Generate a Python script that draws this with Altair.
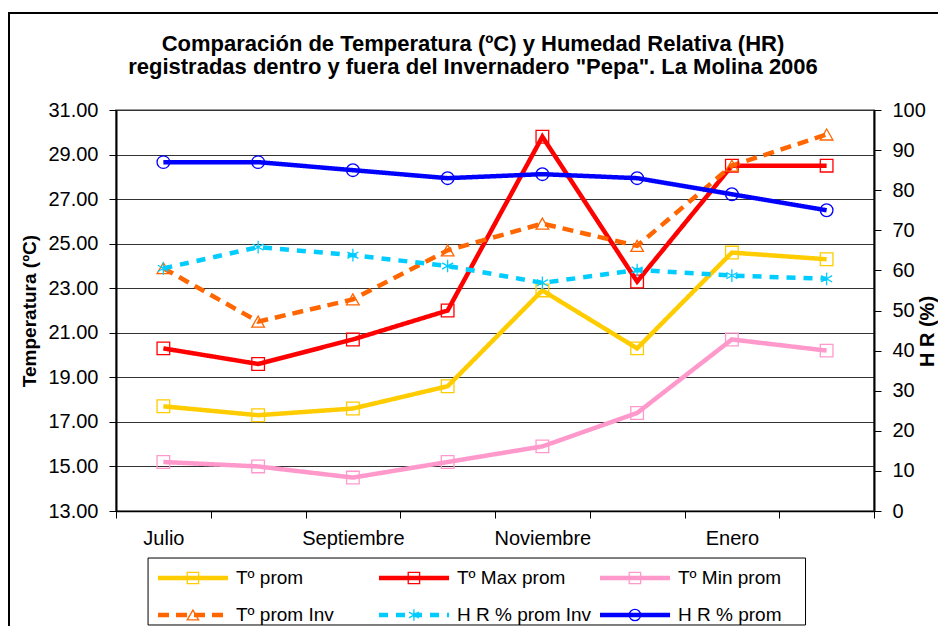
import altair as alt
import pandas as pd

# ---------------- data ----------------
meses = ["Julio", "Agosto", "Septiembre", "Octubre", "Noviembre", "Diciembre", "Enero", "Febrero"]
etiquetas_x = ["Julio", "Septiembre", "Noviembre", "Enero"]

series = ["Tº prom", "Tº Max prom", "Tº Min prom", "Tº prom Inv", "H R % prom Inv", "H R % prom"]

t_prom = [17.7, 17.3, 17.6, 18.6, 22.9, 20.3, 24.6, 24.3]
t_max_prom = [20.3, 19.6, 20.7, 22.0, 29.8, 23.3, 28.5, 28.5]
t_min_prom = [15.2, 15.0, 14.5, 15.2, 15.9, 17.4, 20.7, 20.2]
t_prom_inv = [23.9, 21.5, 22.5, 24.7, 25.9, 24.9, 28.5, 29.9]
hr_prom_inv = [60.5, 65.8, 63.8, 61.1, 56.9, 60.1, 58.7, 57.9]
hr_prom = [87.0, 87.0, 85.0, 83.0, 84.0, 83.0, 79.0, 75.0]

temp_ticks = [13, 15, 17, 19, 21, 23, 25, 27, 29, 31]
hr_ticks = [0, 10, 20, 30, 40, 50, 60, 70, 80, 90, 100]

titulo = ["Comparación de Temperatura (ºC) y Humedad Relativa (HR)",
          "registradas dentro y fuera del Invernadero \"Pepa\". La Molina 2006"]

# ---------------- styles ----------------
colores = ["#FFCC00", "#FF0000", "#FF99CC", "#FF6600", "#00CCFF", "#0000FF"]
dashes = [[1, 0], [1, 0], [1, 0], [11, 7], [9, 8], [1, 0]]
asterisco = "M0,-1L0,1M-0.87,-0.5L0.87,0.5M-0.87,0.5L0.87,-0.5"
formas = ["square", "square", "square", "triangle-up", asterisco, "circle"]

FONT = "Liberation Sans"
W, H = 758, 401

def largo(nombres, listas):
    filas = []
    for s, vals in zip(nombres, listas):
        for m, v in zip(meses, vals):
            filas.append({"mes": m, "serie": s, "valor": v})
    return pd.DataFrame(filas)

df_t = largo(series[:4], [t_prom, t_max_prom, t_min_prom, t_prom_inv])
df_h = largo(series[4:], [hr_prom_inv, hr_prom])

color = alt.Color("serie:N", scale=alt.Scale(domain=series, range=colores), legend=None)
dash = alt.StrokeDash("serie:N", scale=alt.Scale(domain=series, range=dashes), legend=None)
shape = alt.Shape("serie:N", scale=alt.Scale(domain=series, range=formas), legend=None)

label_expr = "indexof([" + ",".join("'" + e + "'" for e in etiquetas_x) + "], datum.value) >= 0 ? datum.value : ''"

x_enc = alt.X(
    "mes:N", sort=meses, bandPosition=0.5,
    scale=alt.Scale(type="band", domain=meses, paddingInner=0, paddingOuter=0),
    axis=alt.Axis(title=None, labelExpr=label_expr, tickBand="extent", labelAngle=0,
                  tickSize=7, labelPadding=10, labelFontSize=20, domainColor="black",
                  tickColor="black", domainWidth=1.5),
)

y_t = alt.Y(
    "valor:Q",
    scale=alt.Scale(domain=[13, 31], nice=False, zero=False),
    axis=alt.Axis(orient="left", values=temp_ticks, format=".2f", title="Temperatura (ºC)",
                  grid=True, gridColor="#333333", gridWidth=1.2, tickSize=7, labelPadding=11,
                  titlePadding=8, domainWidth=2),
)
y_h = alt.Y(
    "valor:Q",
    scale=alt.Scale(domain=[0, 100], nice=False),
    axis=alt.Axis(orient="right", values=hr_ticks, title="H R (%)", titleAngle=270,
                  titleX=53, titleY=221, titleAlign="center", titleBaseline="middle",
                  titleFontSize=20,
                  grid=False, tickSize=7, labelPadding=11, domainWidth=2),
)

line_t = alt.Chart(df_t).mark_line(strokeWidth=4.5).encode(x=x_enc, y=y_t, color=color, strokeDash=dash)
pts_t = alt.Chart(df_t).mark_point(filled=False, size=160, strokeWidth=1.3, opacity=1).encode(
    x=x_enc, y=y_t, color=color, shape=shape)
line_h = alt.Chart(df_h).mark_line(strokeWidth=4.5).encode(x=x_enc, y=y_h, color=color, strokeDash=dash)
pts_h = alt.Chart(df_h).mark_point(filled=False, size=160, strokeWidth=1.3, opacity=1).encode(
    x=x_enc, y=y_h, color=color, shape=shape)

main = alt.layer(alt.layer(line_t, pts_t), alt.layer(line_h, pts_h)).resolve_scale(y="independent")

# ---------------- legend (built from the same series list) ----------------
leg = pd.DataFrame({"serie": series,
                    "col": [i % 3 for i in range(len(series))],
                    "fila": [i // 3 for i in range(len(series))]})
xs_leg = alt.Scale(domain=[0, 3], range=[42, 705])
ys_leg = alt.Scale(domain=[0, 1], range=[468, 505])

leg_base = alt.Chart(leg).transform_calculate(
    x0="datum.col", x1="datum.col + 0.317", xm="datum.col + 0.158", xt="datum.col + 0.353")

box = alt.Chart(pd.DataFrame({"a": [-0.045], "b": [2.93], "c": [-0.54], "d": [1.27]})).mark_rect(
    fill="white", stroke="black", strokeWidth=1).encode(
    x=alt.X("a:Q", scale=xs_leg, axis=None), x2="b:Q",
    y=alt.Y("c:Q", scale=ys_leg, axis=None), y2="d:Q")
leg_rule = leg_base.mark_rule(strokeWidth=4.5).encode(
    x=alt.X("x0:Q", scale=xs_leg, axis=None), x2="x1:Q",
    y=alt.Y("fila:Q", scale=ys_leg, axis=None), color=color, strokeDash=dash)
leg_pts = leg_base.mark_point(filled=False, size=130, strokeWidth=1.3, opacity=1).encode(
    x=alt.X("xm:Q", scale=xs_leg, axis=None),
    y=alt.Y("fila:Q", scale=ys_leg, axis=None), color=color, shape=shape)
leg_txt = leg_base.mark_text(align="left", baseline="middle", fontSize=19, font=FONT, color="black").encode(
    x=alt.X("xt:Q", scale=xs_leg, axis=None),
    y=alt.Y("fila:Q", scale=ys_leg, axis=None), text="serie:N")
legend = alt.layer(box, leg_rule, leg_pts, leg_txt)

frame = alt.Chart(pd.DataFrame({"a": [0]})).mark_rect(
    fill="white", fillOpacity=0, stroke="black", strokeWidth=2).encode(
    x=alt.value(-107), x2=alt.value(900), y=alt.value(-97), y2=alt.value(700))

chart = alt.layer(frame, main, legend).resolve_scale(x="independent", y="independent").properties(
    width=W, height=H,
    autosize=alt.AutoSizeParams(type="none"),
    padding={"left": 108, "top": 102, "right": 64, "bottom": 115},
    title=alt.TitleParams(text=titulo, fontSize=22, font=FONT, fontWeight="bold", anchor="middle",
                          dx=-22, offset=-67, lineHeight=23, color="black"),
).configure(font=FONT).configure_view(stroke="#999999", strokeWidth=2).configure_axis(
    labelFont=FONT, titleFont=FONT, labelFontSize=20, titleFontSize=19, titleFontWeight="bold",
    labelColor="black", titleColor="black", domainColor="black", tickColor="black",
)

chart.save("out.html", embed_options={"renderer": "svg", "actions": False})
